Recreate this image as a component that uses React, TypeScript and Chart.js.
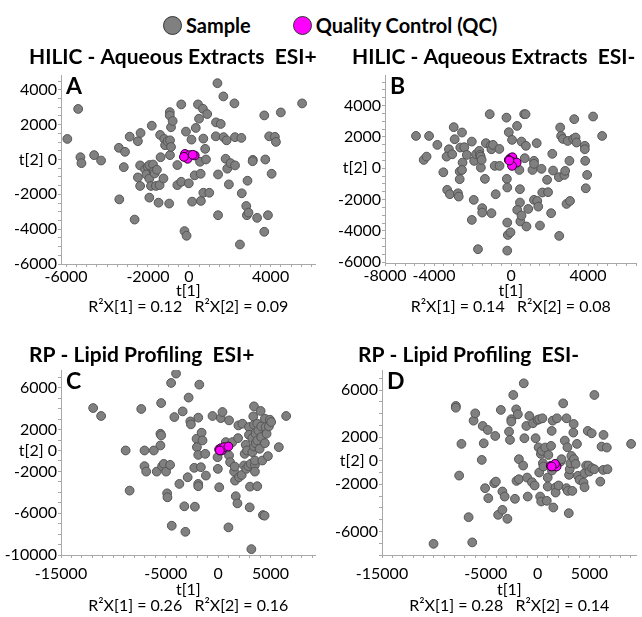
import React, { useEffect, useRef } from "react";
import { Chart, registerables } from "chart.js";

Chart.register(...registerables);

const FONT = "Lato, 'Open Sans', sans-serif";

// ---------- Panel A: HILIC - Aqueous Extracts ESI+ ----------
const aSamples: number[][] = [
  [-5940, 1180], [-5410, 2900], [-5300, 130], [-5250, -210], [-4630, 250], [-4290, -60],
  [-3420, 670], [-3120, 440], [-3180, -440], [-3400, -2290], [-2890, 1310], [-2650, -3450],
  [-2490, 1050], [-2360, 1520], [-2490, -1030], [-2380, -340], [-2380, -1520], [-2140, -570],
  [-2010, -420], [-2070, -860], [-1930, -320], [-1930, -1100], [-1850, -1520], [-1810, 1940],
  [-1750, -290], [-1720, -700], [-1670, -800], [-1560, -590], [-1610, -1520], [-1930, -2190],
  [-1480, -2480], [-1400, 1410], [-1380, 130], [-1430, -1470], [-1240, -1090], [-1200, 1180],
  [-1160, 820], [-1040, 1050], [-960, -2530], [-930, 2720], [-930, 2530], [-870, 1850],
  [-790, 2210], [-920, 250], [-920, 1100], [-870, 720], [-560, -320], [-560, -1470],
  [-370, 3160], [-370, -1280], [-140, 1600], [0, -1370], [130, 1140], [160, -2420],
  [-210, -4110], [-110, -4380], [290, -910], [340, 1810], [450, 3160], [500, 2340],
  [550, -130], [580, -820], [690, 2910], [710, 1200], [800, 610], [840, 0], [900, 2610],
  [590, -2380], [710, -1910], [1000, -1910], [1320, 1330], [1330, 2130], [1430, -860],
  [1430, -3200], [1400, 4380], [1560, 2040], [1690, 3620], [1700, 1280], [1850, 1100],
  [1800, 40], [1880, -530], [1960, -1430], [2040, -210], [2230, 3220], [2260, -340],
  [2260, 1280], [2570, 1240], [2590, -1940], [2810, -2670], [2840, -3200], [2870, -1220],
  [2920, -3050], [3130, -20], [3120, -100], [2500, -4880], [3340, -3350], [3690, 2530],
  [3740, 0], [3870, -3200], [3930, 1330], [4210, 1300], [4260, 1010], [4050, -820],
  [3690, -4150], [4500, 2700], [5540, 3220],
];
const aQC: number[][] = [[-190, 320], [-80, 150], [30, 250], [-60, 40], [290, 230], [190, 270], [-240, 150]];
const aXTicks = [-6000, -2000, 0, 4000];
const aXTickLabels = ["-6000", "-2000", "0", "4000"];
const aYTicks = [4000, 2000, 0, -2000, -4000, -6000];

// ---------- Panel B: HILIC - Aqueous Extracts ESI- ----------
const bSamples: number[][] = [
  [-4940, 2060], [-4540, 530], [-4390, 740], [-4260, 2060], [-3830, 1490], [-3520, -260],
  [-3320, -1380], [-3230, 1210], [-3350, 740], [-3180, -1660], [-3060, 890], [-2980, 2620],
  [-2930, 1850], [-2670, -210], [-2670, -700], [-2760, -1600], [-2720, -1810], [-2640, 1320],
  [-2550, 2280], [-2520, 360], [-2430, 1340], [-2550, -110], [-2300, 850], [-2040, 1700],
  [-1920, 470], [-1940, -2020], [-2040, -3300], [-1820, 890], [-1650, 1110], [-1620, 850],
  [-1580, 740], [-1570, 40], [-1530, 530], [-1500, -2550], [-1500, -2830], [-1360, -680],
  [-1310, 1600], [-1110, 3450], [-1060, 1430], [-1020, -2870], [-1020, 1210], [-940, 1490],
  [-850, 150], [-800, -1660], [-610, 1230], [-600, 150], [-1720, -5170], [-240, 3230],
  [-220, -680], [-200, -1230], [-200, -3470], [-120, 2300], [-170, -4260], [-200, -5260],
  [-30, -4090], [50, 1810], [310, 2700], [430, -110], [460, -1340], [460, -2190],
  [320, -2660], [480, -3400], [540, -3020], [540, 1700], [680, 3450], [750, 3450],
  [710, 640], [770, 1430], [800, -3720], [890, -2600], [1110, -110], [1190, 470],
  [1190, 280], [1190, -2020], [1330, 1600], [1360, -2090], [1410, -2450], [1500, -3660],
  [1580, -40], [1620, -1550], [1870, -740], [1920, -1530], [2080, -2870], [2140, 920],
  [2180, -150], [2480, -570], [2550, 2600], [2600, 2060], [2690, 1870], [2770, -430],
  [2810, -170], [2880, -2280], [2940, 1740], [3030, 470], [3060, -2090], [3230, 1870],
  [3280, 3130], [3350, 1960], [3400, 1640], [2500, -4320], [3830, 1430], [3830, 1210],
  [3850, 470], [3880, -1280], [3950, -430], [4260, 3300], [4730, 2060],
];
const bQC: number[][] = [[-30, 640], [70, 700], [-120, 530], [30, 430], [290, 360], [50, 150], [-90, 490]];
const bXTicks = [-6550, -4000, 0, 4000];
const bXTickLabels = ["-8000", "-4000", "0", "4000"];
const bYTicks = [4000, 2000, 0, -2000, -4000, -6000];

// ---------- Panel C: RP - Lipid Profiling ESI+ ----------
const cSamples: number[][] = [
  [-11930, 4060], [-11170, 3300], [-8830, 0], [-8450, -3840], [-7340, 3970], [-7030, 0],
  [-7030, -1500], [-6870, -2020], [-6140, 0], [-5860, -2020], [-5510, 1600], [-5440, 1440],
  [-5510, 480], [-5440, 4540], [-5350, -1500], [-5190, -1280], [-4970, -2020], [-4870, -4100],
  [-4840, -4480], [-4590, -1380], [-4490, 6460], [-4430, -7200], [-4180, 3200], [-4020, 7360],
  [-3700, -3200], [-3390, 3740], [-3230, -5340], [-3130, -7780], [-2910, -2560], [-2820, 5060],
  [-2660, 2780], [-2600, 2500], [-2280, -1660], [-2220, -5380], [-2060, 1120], [-2030, 320],
  [-1900, 3140], [-1900, -420], [-1900, -3200], [-1900, -3420], [-1800, 6300], [-1650, -1600],
  [-1580, 1700], [-1490, 960], [-1230, -320], [-1170, -2400], [-540, 3300], [-60, -640],
  [-30, -1760], [100, -3520], [250, 3100], [410, 3680], [730, 800], [980, -7360],
  [1040, 2880], [1040, -480], [1140, -1120], [1360, 800], [1520, -2020], [1580, -1540],
  [1610, -2880], [1680, -4380], [1840, -5060], [1900, 1180], [1930, 2400], [1990, -2560],
  [2250, -2340], [2310, 2560], [2470, -1440], [2530, -320], [2630, 540], [2690, -1760],
  [2750, 0], [2880, -1500], [2940, 2240], [2940, 1500], [3010, -5440], [3040, -3460],
  [3100, -1280], [3170, -9440], [3260, 1180], [3260, -160], [3350, 3260], [3420, 2460],
  [3420, 380], [3510, -1380], [3510, -2020], [3510, -960], [3580, 1600], [3580, 700],
  [3420, 4220], [3730, 960], [3730, -3420], [3730, 2560], [3830, 1920], [3960, 160],
  [4050, 3780], [4110, 2300], [4110, 1280], [4210, -960], [4270, -6180], [4430, -6240],
  [4460, 700], [4460, 3040], [4530, 2240], [4620, 1600], [4750, -540], [4840, 2300],
  [4940, 2940], [5060, 2720], [5790, 320], [6490, 3300],
];
const cQC: number[][] = [[90, 100], [250, 220], [410, 160], [350, 0], [570, 320], [980, 380], [160, 0]];
const cXTicks = [-15000, -5000, 0, 5000];
const cXTickLabels = ["-15000", "-5000", "0", "5000"];
const cYTicks = [6000, 2000, 0, -2000, -6000, -10000];

// ---------- Panel D: RP - Lipid Profiling ESI- ----------
const dSamples: number[][] = [
  [-10030, -7050], [-7880, 4650], [-7880, 4500], [-7560, -1260], [-7340, 1430], [-6650, -4790],
  [-6300, -6930], [-6170, 3400], [-6010, 4020], [-5380, 70], [-5290, 2950], [-5190, 1480],
  [-5060, -2330], [-4810, 2610], [-4750, -3180], [-4180, -1910], [-4080, 2100], [-4020, -1770],
  [-3800, -4590], [-3540, 4310], [-3390, -2610], [-3390, -4170], [-3170, -3040], [-2910, -4930],
  [-2750, 2470], [-2660, 1770], [-2530, 3520], [-2530, 3320], [-2340, 5580], [-2180, -3230],
  [-2060, 4360], [-2030, -1710], [-1900, 3940], [-1800, -1570], [-1800, 130], [-1330, 6570],
  [-1270, 1910], [-1390, -410], [-1080, 2950], [-1010, -1430], [-950, -3040], [-790, 3800],
  [-540, -1820], [-440, 3180], [-280, -2100], [-190, 1910], [0, 3460], [100, 1140],
  [160, 3520], [160, -1000], [250, -3040], [320, 580], [350, -3460], [410, 830],
  [470, 3600], [510, -210], [570, -490], [730, 1120], [890, -3400], [980, -1430],
  [980, -2190], [1040, 490], [1300, 1260], [1360, 2530], [1390, -830], [1460, 3400],
  [1520, -3970], [1740, -2270], [1740, -2700], [1870, 3600], [2030, -2100], [2220, -70],
  [2310, 130], [2470, 4870], [2630, 1710], [2790, 3600], [2790, -2330], [2880, 1140],
  [2910, -2560], [3010, -4450], [3040, -1200], [3100, -720], [3170, -210], [3260, 410],
  [3350, -2560], [3450, 2390], [3480, 3120], [3510, 130], [3670, -270], [3800, 1430],
  [3890, -1280], [4050, -1620], [4430, -1850], [4530, -1060], [4530, -2250], [4680, -410],
  [4840, 2530], [4910, -410], [5000, -920], [5220, 2330], [5250, -640], [5480, 5580],
  [5480, -720], [6050, -1770], [6170, 1200], [6330, -780], [6360, 2190], [6680, 1120],
  [6740, -720], [9020, 1430],
];
const dQC: number[][] = [[1270, -440], [1520, -410], [1740, -410], [1840, -490], [1680, -270], [1360, -490]];
const dXTicks = [-15000, -5000, 0, 5000];
const dXTickLabels = ["-15000", "-5000", "0", "5000"];
const dYTicks = [6000, 2000, 0, -2000, -6000];

const SAMPLE_FILL = "#808080";
const SAMPLE_BORDER = "#555555";
const QC_FILL = "#ff00ff";
const QC_BORDER = "#2a002a";
const AXIS_COLOR = "#a8a8a8";

type PanelCfg = {
  left: number; top: number; width: number; height: number;
  samples: number[][]; qc: number[][];
  xMin: number; xMax: number; yMin: number; yMax: number;
  xTicks: number[]; xTickLabels: string[]; yTicks: number[];
  xMinor: number; yMinor: number;
  yAxisWidth: number; xAxisHeight: number; padTop: number; padRight: number;
  xLabelPad: number; xTitlePadBottom: number;
  title: string; titleX: number; titleY: number; letter: string; r2: string;
};

const decorPlugin = {
  id: "decor",
  afterDraw(chart: any, _args: any, opts: any) {
    const ctx = chart.ctx;
    ctx.save();
    ctx.fillStyle = "#000";
    ctx.textAlign = "left";
    ctx.textBaseline = "middle";
    ctx.font = `bold 21px ${FONT}`;
    ctx.fillText(opts.title, opts.titleX, opts.titleY);
    ctx.font = `bold 23px ${FONT}`;
    ctx.textBaseline = "alphabetic";
    ctx.fillText(opts.letter, chart.chartArea.left + 5, chart.chartArea.top + 19);
    ctx.restore();
  },
};

function buildTicks(min: number, max: number, step: number, majors: number[]) {
  const vals: number[] = [];
  for (let v = Math.ceil(min / step) * step; v <= max; v += step) vals.push(v);
  majors.forEach((m) => { if (!vals.includes(m) && m >= min && m <= max) vals.push(m); });
  return vals.sort((a, b) => a - b).map((v) => ({ value: v }));
}

function Panel({ cfg }: { cfg: PanelCfg }) {
  const ref = useRef<HTMLCanvasElement>(null);
  useEffect(() => {
    if (!ref.current) return;
    const chart = new Chart(ref.current, {
      type: "scatter",
      data: {
        datasets: [
          {
            label: "Quality Control (QC)",
            data: cfg.qc.map(([x, y]) => ({ x, y })),
            backgroundColor: QC_FILL,
            borderColor: QC_BORDER,
            borderWidth: 1,
            pointRadius: 4.4,
          },
          {
            label: "Sample",
            data: cfg.samples.map(([x, y]) => ({ x, y })),
            backgroundColor: SAMPLE_FILL,
            borderColor: SAMPLE_BORDER,
            borderWidth: 1,
            pointRadius: 4.4,
          },
        ],
      },
      options: {
        animation: false,
        responsive: false,
        maintainAspectRatio: false,
        layout: { padding: { top: cfg.padTop, right: cfg.padRight, left: 0, bottom: 0 } },
        plugins: {
          legend: { display: false },
          tooltip: { enabled: false },
          decor: { title: cfg.title, titleX: cfg.titleX, titleY: cfg.titleY, letter: cfg.letter },
        } as any,
        scales: {
          x: {
            type: "linear",
            min: cfg.xMin,
            max: cfg.xMax,
            afterBuildTicks: (s: any) => { s.ticks = buildTicks(cfg.xMin, cfg.xMax, cfg.xMinor, cfg.xTicks); },
            afterFit: (s: any) => { s.height = cfg.xAxisHeight; },
            ticks: {
              autoSkip: false,
              maxRotation: 0,
              padding: cfg.xLabelPad,
              color: "#000",
              font: { family: FONT, size: 16 },
              callback: (v: any) => {
                const i = cfg.xTicks.indexOf(Number(v));
                return i >= 0 ? cfg.xTickLabels[i] : "";
              },
            },
            grid: { drawOnChartArea: false, drawTicks: true, tickLength: 3, color: AXIS_COLOR },
            border: { display: true, color: AXIS_COLOR, width: 1 },
            title: {
              display: true,
              text: ["t[1]", cfg.r2],
              color: "#000",
              font: { family: FONT, size: 16, lineHeight: 1.0 },
              padding: { top: 0, bottom: cfg.xTitlePadBottom },
            },
          },
          y: {
            type: "linear",
            min: cfg.yMin,
            max: cfg.yMax,
            afterBuildTicks: (s: any) => { s.ticks = buildTicks(cfg.yMin, cfg.yMax, cfg.yMinor, cfg.yTicks); },
            afterFit: (s: any) => { s.width = cfg.yAxisWidth; },
            ticks: {
              autoSkip: false,
              padding: 1,
              color: "#000",
              font: { family: FONT, size: 16 },
              callback: (v: any) => {
                const n = Number(v);
                if (!cfg.yTicks.includes(n)) return "";
                return n === 0 ? "t[2] 0" : String(n);
              },
            },
            grid: { drawOnChartArea: false, drawTicks: true, tickLength: 3, color: AXIS_COLOR },
            border: { display: true, color: AXIS_COLOR, width: 1 },
          },
        },
      },
      plugins: [decorPlugin],
    });
    return () => chart.destroy();
  }, [cfg]);
  return (
    <canvas
      ref={ref}
      width={cfg.width}
      height={cfg.height}
      style={{ position: "absolute", left: cfg.left, top: cfg.top, width: cfg.width, height: cfg.height }}
    />
  );
}

const panels: PanelCfg[] = [
  {
    left: 0, top: 40, width: 321, height: 275, samples: aSamples, qc: aQC,
    xMin: -6250, xMax: 6200, yMin: -6000, yMax: 4850,
    xTicks: aXTicks, xTickLabels: aXTickLabels, yTicks: aYTicks, xMinor: 500, yMinor: 500,
    yAxisWidth: 61, xAxisHeight: 51, padTop: 35, padRight: 3, xLabelPad: 0, xTitlePadBottom: 0,
    title: "HILIC - Aqueous Extracts  ESI+", titleX: 29, titleY: 17, letter: "A",
    r2: "R²X[1] = 0.12   R²X[2] = 0.09",
  },
  {
    left: 321, top: 40, width: 321, height: 275, samples: bSamples, qc: bQC,
    xMin: -6550, xMax: 6520, yMin: -6050, yMax: 5950,
    xTicks: bXTicks, xTickLabels: bXTickLabels, yTicks: bYTicks, xMinor: 500, yMinor: 500,
    yAxisWidth: 64, xAxisHeight: 52, padTop: 35, padRight: 1, xLabelPad: 0, xTitlePadBottom: 0,
    title: "HILIC - Aqueous Extracts  ESI-", titleX: 31, titleY: 17, letter: "B",
    r2: "R²X[1] = 0.14   R²X[2] = 0.08",
  },
  {
    left: 0, top: 330, width: 321, height: 287, samples: cSamples, qc: cQC,
    xMin: -15000, xMax: 9300, yMin: -10000, yMax: 7700,
    xTicks: cXTicks, xTickLabels: cXTickLabels, yTicks: cYTicks, xMinor: 1000, yMinor: 1000,
    yAxisWidth: 61, xAxisHeight: 62, padTop: 40, padRight: 4, xLabelPad: 6, xTitlePadBottom: 3,
    title: "RP - Lipid Profiling  ESI+", titleX: 29, titleY: 25, letter: "C",
    r2: "R²X[1] = 0.26   R²X[2] = 0.16",
  },
  {
    left: 321, top: 330, width: 321, height: 287, samples: dSamples, qc: dQC,
    xMin: -15000, xMax: 9550, yMin: -8000, yMax: 7700,
    xTicks: dXTicks, xTickLabels: dXTickLabels, yTicks: dYTicks, xMinor: 1000, yMinor: 1000,
    yAxisWidth: 61, xAxisHeight: 62, padTop: 40, padRight: 1, xLabelPad: 6, xTitlePadBottom: 3,
    title: "RP - Lipid Profiling  ESI-", titleX: 37, titleY: 25, letter: "D",
    r2: "R²X[1] = 0.28   R²X[2] = 0.14",
  },
];

const dot = (fill: string): React.CSSProperties => ({
  display: "inline-block",
  width: 19,
  height: 19,
  borderRadius: "50%",
  background: fill,
  border: "1.5px solid #333",
  boxSizing: "border-box",
});

export default function App() {
  return (
    <div style={{ position: "absolute", left: 0, top: 0, width: 642, height: 617, background: "#fff", overflow: "hidden" }}>
      <div
        style={{
          position: "absolute", left: 163, top: 13, display: "flex", alignItems: "center",
          fontFamily: FONT, fontWeight: "bold", fontSize: 20, color: "#000", whiteSpace: "nowrap",
        }}
      >
        <span style={dot(SAMPLE_FILL)} />
        <span style={{ marginLeft: 4 }}>Sample</span>
        <span style={{ ...dot(QC_FILL), marginLeft: 42 }} />
        <span style={{ marginLeft: 4 }}>Quality Control (QC)</span>
      </div>
      {panels.map((p, i) => (
        <Panel key={i} cfg={p} />
      ))}
    </div>
  );
}
